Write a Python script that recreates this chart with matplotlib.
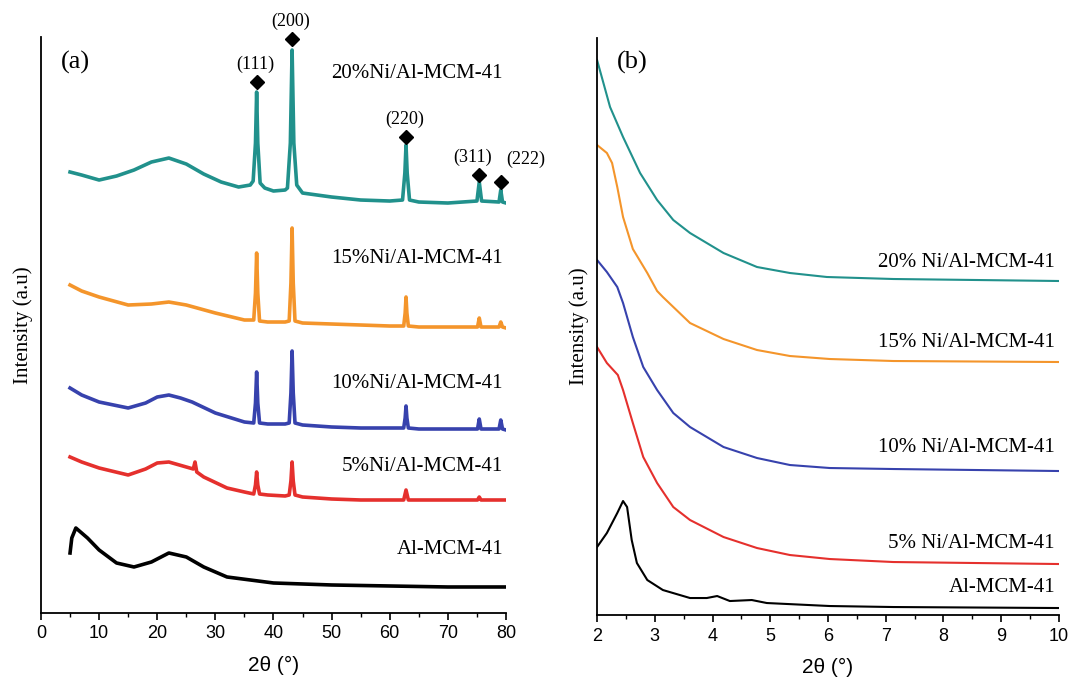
import matplotlib
matplotlib.use("Agg")
import matplotlib.pyplot as plt
from matplotlib.ticker import MultipleLocator

# ---------------- Panel (a): wide-angle XRD ----------------
a_x_20 = [5, 7, 10, 13, 16, 19, 22, 25, 28, 31, 34, 36, 36.5, 36.9, 37.1, 37.3, 37.7, 38.5, 40, 42, 42.4, 42.9,
          43.2, 43.5, 44, 45, 50, 55, 60, 62.2, 62.6, 62.8, 63.0, 63.4, 65, 70, 75.0, 75.4, 75.8, 78.8, 79.1,
          79.4, 80]
a_y_20 = [441, 438, 433, 437, 443, 451, 455, 449, 439, 431, 426, 428, 432, 470, 521, 470, 430, 425, 422, 423, 425,
          470, 563, 470, 428, 420, 416, 413, 412, 413, 440, 468, 440, 413, 411, 410, 412, 431, 412, 411, 423,
          411, 410]

a_x_15 = [5, 7, 10, 15, 19, 22, 25, 30, 35, 36.6, 36.9, 37.1, 37.3, 37.6, 39, 42, 42.7, 43.0, 43.2, 43.4, 43.7,
          45, 50, 55, 60, 62.4, 62.65, 62.8, 62.95, 63.2, 65, 70, 75.1, 75.4, 75.7, 78.8, 79.1, 79.4, 80]
a_y_15 = [328, 322, 316, 308, 309, 311, 308, 300, 293, 293, 320, 360, 320, 292, 291, 291, 292, 330, 385, 330, 292,
          290, 289, 288, 287, 287, 300, 316, 300, 287, 286, 286, 286, 295, 286, 286, 291, 286, 285]

a_x_10 = [5, 7, 10, 15, 18, 20, 22, 24, 26, 30, 35, 36.6, 36.9, 37.1, 37.3, 37.6, 39, 42, 42.7, 43.0, 43.2, 43.4,
          43.7, 45, 50, 55, 60, 62.4, 62.65, 62.8, 62.95, 63.2, 65, 70, 75.1, 75.4, 75.7, 78.8, 79.1, 79.4, 80]
a_y_10 = [225, 218, 211, 205, 210, 216, 218, 215, 211, 200, 191, 190, 210, 241, 210, 190, 189, 189, 190, 220, 262,
          220, 190, 188, 186, 185, 185, 185, 195, 207, 195, 185, 184, 184, 184, 194, 184, 184, 193, 184, 183]

a_x_5 = [5, 7, 10, 15, 18, 20, 22, 25, 26.2, 26.5, 26.8, 28, 32, 35, 36.6, 36.9, 37.1, 37.3, 37.6, 39, 42, 42.7,
         43.0, 43.2, 43.4, 43.7, 45, 50, 55, 60, 62.4, 62.8, 63.2, 65, 70, 75.1, 75.4, 75.7, 80]
a_y_5 = [156, 151, 145, 138, 144, 150, 151, 146, 144, 151, 141, 136, 125, 121, 119, 128, 141, 128, 119, 118, 117,
         118, 132, 151, 132, 118, 116, 114, 113, 113, 113, 123, 113, 113, 113, 113, 116, 113, 113]

a_x_0 = [5, 5.3, 6, 7, 8, 10, 13, 16, 19, 22, 25, 28, 32, 36, 40, 50, 60, 70, 80]
a_y_0 = [60, 75, 85, 80, 75, 63, 50, 46, 51, 60, 56, 46, 36, 33, 30, 28, 27, 26, 26]

a_labels = ["20%Ni/Al-MCM-41", "15%Ni/Al-MCM-41", "10%Ni/Al-MCM-41", "5%Ni/Al-MCM-41", "Al-MCM-41"]
a_label_y = [540, 355, 230, 146, 63]

peak_names = ["(111)", "(200)", "(220)", "(311)", "(222)"]
peak_x = [37.1, 43.2, 62.8, 75.4, 79.1]
peak_marker_y = [531, 574, 476, 438, 431]

# ---------------- Panel (b): low-angle XRD ----------------
b_x_20 = [2.0, 2.225, 2.45, 2.745, 3.04, 3.32, 3.61, 4.19, 4.77, 5.34, 5.98, 7.13, 10.0]
b_y_20 = [555, 508, 478, 442, 415, 395, 382, 362, 348, 342, 338, 336, 334]

b_x_15 = [2.0, 2.17, 2.26, 2.35, 2.45, 2.62, 2.87, 3.04, 3.14, 3.61, 4.19, 4.77, 5.34, 6.03, 7.13, 10.0]
b_y_15 = [470, 462, 452, 428, 398, 366, 342, 324, 318, 292, 276, 265, 259, 256, 254, 253]

b_x_10 = [2.0, 2.17, 2.35, 2.45, 2.62, 2.8, 3.04, 3.32, 3.61, 4.19, 4.77, 5.34, 6.03, 7.13, 10.0]
b_y_10 = [355, 343, 328, 312, 278, 248, 225, 202, 188, 168, 157, 150, 147, 146, 144]

b_x_5 = [2.0, 2.17, 2.36, 2.45, 2.62, 2.8, 3.04, 3.32, 3.61, 4.19, 4.77, 5.34, 6.03, 7.13, 10.0]
b_y_5 = [268, 252, 240, 225, 192, 158, 132, 108, 95, 78, 67, 60, 56, 53, 51]

b_x_0 = [2.0, 2.17, 2.35, 2.45, 2.52, 2.6, 2.69, 2.87, 3.14, 3.61, 3.9, 4.08, 4.3, 4.68, 4.94, 6.03, 7.13, 10.0]
b_y_0 = [68, 82, 102, 114, 108, 75, 52, 35, 25, 17, 17, 19, 14, 15, 12, 9, 8, 7]

b_labels = ["20% Ni/Al-MCM-41", "15% Ni/Al-MCM-41", "10% Ni/Al-MCM-41", "5% Ni/Al-MCM-41", "Al-MCM-41"]
b_label_y = [353, 273, 168, 72, 28]

colors = ["#21918c", "#f4952b", "#3742ad", "#e5302d", "#000000"]

serif = ["Liberation Serif", "DejaVu Serif"]
sans = ["Liberation Sans", "DejaVu Sans"]

fig = plt.figure(figsize=(10.70, 6.82), dpi=100)
axa = fig.add_axes([0.0383, 0.1012, 0.4346, 0.8445])
axb = fig.add_axes([0.5580, 0.0982, 0.4317, 0.8461])

for ax in (axa, axb):
    for s in ("top", "right"):
        ax.spines[s].set_visible(False)
    ax.spines["left"].set_linewidth(1.3)
    ax.spines["bottom"].set_linewidth(1.3)
    ax.set_yticks([])
    ax.tick_params(axis="x", which="major", direction="out", length=5, width=1.2, labelsize=13, pad=4)
    ax.tick_params(axis="x", which="minor", direction="out", length=3, width=1.0)
    ax.set_ylabel("Intensity (a.u)", fontsize=15, family=serif, labelpad=6)
    ax.set_xlabel("2θ (°)", fontsize=15, family=sans, labelpad=10)

# Panel (a)
a_series = [(a_x_20, a_y_20), (a_x_15, a_y_15), (a_x_10, a_y_10), (a_x_5, a_y_5), (a_x_0, a_y_0)]
for (xs, ys), c in zip(a_series, colors):
    axa.plot(xs, ys, color=c, lw=2.6, solid_joinstyle="round")
axa.set_xlim(0, 80)
axa.set_ylim(0, 576)
axa.xaxis.set_major_locator(MultipleLocator(10))
axa.xaxis.set_minor_locator(MultipleLocator(5))
for lab, ly in zip(a_labels, a_label_y):
    axa.text(79.5, ly, lab, ha="right", va="center", fontsize=15, family=serif)
for name, px, py in zip(peak_names, peak_x, peak_marker_y):
    axa.plot([px], [py], marker="D", color="black", ms=7, clip_on=False)
    if name == "(222)":
        axa.text(px + 0.9, py + 14, name, ha="left", va="bottom", fontsize=13, family=serif)
    elif name == "(311)":
        axa.text(px - 1.2, py + 9, name, ha="center", va="bottom", fontsize=13, family=serif)
    else:
        axa.text(px - 0.3, py + 9, name, ha="center", va="bottom", fontsize=13, family=serif)
axa.text(3.5, 551, "(a)", ha="left", va="center", fontsize=19, family=serif)
for t in axa.get_xticklabels():
    t.set_family(sans)

# Panel (b)
b_series = [(b_x_20, b_y_20), (b_x_15, b_y_15), (b_x_10, b_y_10), (b_x_5, b_y_5), (b_x_0, b_y_0)]
for (xs, ys), c in zip(b_series, colors):
    axb.plot(xs, ys, color=c, lw=1.5)
axb.set_xlim(2, 10)
axb.set_ylim(0, 577)
axb.xaxis.set_major_locator(MultipleLocator(1))
axb.xaxis.set_minor_locator(MultipleLocator(0.5))
for lab, ly in zip(b_labels, b_label_y):
    axb.text(9.93, ly, lab, ha="right", va="center", fontsize=15, family=serif)
axb.text(2.35, 553, "(b)", ha="left", va="center", fontsize=19, family=serif)
for t in axb.get_xticklabels():
    t.set_family(sans)

fig.savefig("out.png", dpi=100)
